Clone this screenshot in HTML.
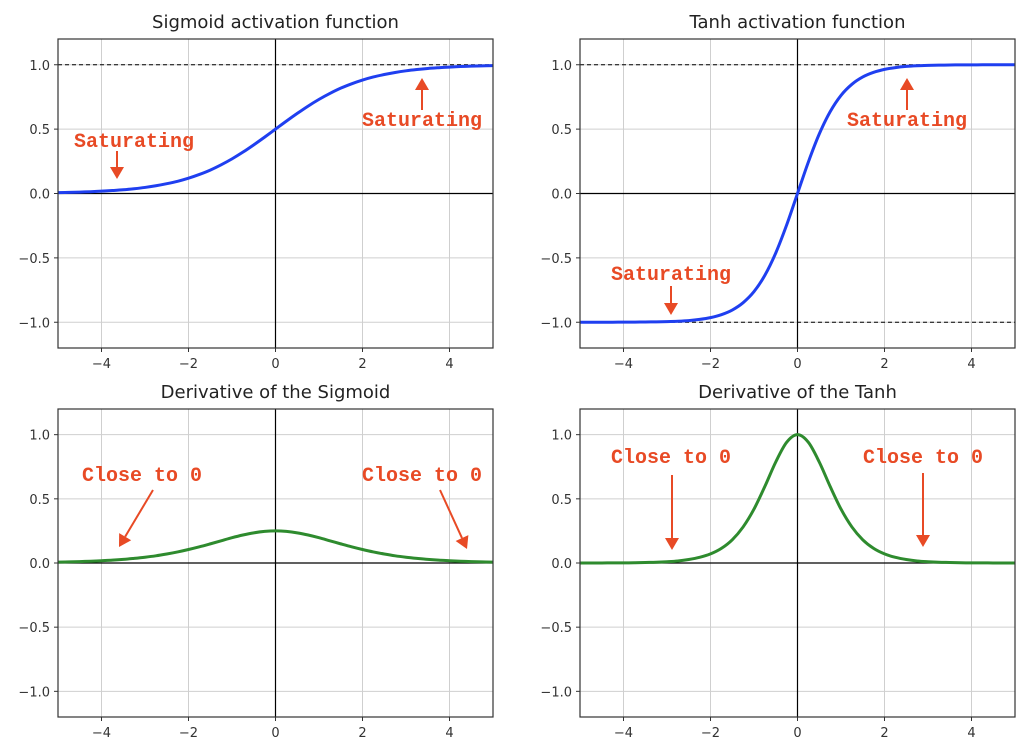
<!DOCTYPE html>
<html><head><meta charset="utf-8"><style>
html,body{margin:0;padding:0;background:#fff;}
svg{display:block;font-family:"DejaVu Sans","Liberation Sans",sans-serif;}
</style></head><body>
<svg id="fig" width="1024" height="753" viewBox="0 0 1024 753"></svg>
<script>
const xValues = [-5,-4.75,-4.5,-4.25,-4,-3.75,-3.5,-3.25,-3,-2.75,-2.5,-2.25,-2,-1.75,-1.5,-1.25,-1,-0.75,-0.5,-0.25,0,0.25,0.5,0.75,1,1.25,1.5,1.75,2,2.25,2.5,2.75,3,3.25,3.5,3.75,4,4.25,4.5,4.75,5];
const sigmoidValues = [0.007,0.009,0.011,0.014,0.018,0.023,0.029,0.037,0.047,0.060,0.076,0.095,0.119,0.148,0.182,0.223,0.269,0.321,0.378,0.438,0.5,0.562,0.622,0.679,0.731,0.777,0.818,0.852,0.881,0.905,0.924,0.940,0.953,0.963,0.971,0.977,0.982,0.986,0.989,0.991,0.993];
const tanhValues = [-0.9999,-0.9999,-0.9998,-0.9996,-0.9993,-0.999,-0.998,-0.997,-0.995,-0.992,-0.987,-0.978,-0.964,-0.941,-0.905,-0.848,-0.762,-0.635,-0.462,-0.245,0,0.245,0.462,0.635,0.762,0.848,0.905,0.941,0.964,0.978,0.987,0.992,0.995,0.997,0.998,0.999,0.9993,0.9996,0.9998,0.9999,0.9999];
const sigmoidDerivValues = [0.007,0.009,0.011,0.014,0.018,0.022,0.028,0.036,0.045,0.056,0.070,0.086,0.105,0.126,0.149,0.173,0.197,0.218,0.235,0.246,0.25,0.246,0.235,0.218,0.197,0.173,0.149,0.126,0.105,0.086,0.070,0.056,0.045,0.036,0.028,0.022,0.018,0.014,0.011,0.009,0.007];
const tanhDerivValues = [0.0002,0.0003,0.0005,0.001,0.001,0.002,0.004,0.006,0.010,0.016,0.027,0.044,0.071,0.114,0.181,0.281,0.420,0.597,0.787,0.940,1,0.940,0.787,0.597,0.420,0.281,0.181,0.114,0.071,0.044,0.027,0.016,0.010,0.006,0.004,0.002,0.001,0.001,0.0005,0.0003,0.0002];
const xTicks = [-4,-2,0,2,4];
const xTickLabels = ["\u22124","\u22122","0","2","4"];
const yTicks = [-1,-0.5,0,0.5,1];
const yTickLabels = ["\u22121.0","\u22120.5","0.0","0.5","1.0"];

const NS = "http://www.w3.org/2000/svg";
const fig = document.getElementById('fig');
function mk(tag, attrs, parent, text){
  const e = document.createElementNS(NS, tag);
  for (const k in attrs) e.setAttribute(k, attrs[k]);
  if (text !== undefined) e.textContent = text;
  parent.appendChild(e);
  return e;
}
const RED = "#e84a25";

const panels = [
  {name:"sigmoid", title:"Sigmoid activation function", L:58, R:493, T:39, B:348, values:sigmoidValues, color:"#1f3ff0", dashed:[1],
   notes:[{t:"Saturating", x:74, y:147, ax1:[117,151], ax2:[117,179]},{t:"Saturating", x:362, y:126, ax1:[422,110], ax2:[422,78]}]},
  {name:"tanh", title:"Tanh activation function", L:580, R:1015, T:39, B:348, values:tanhValues, color:"#1f3ff0", dashed:[1,-1],
   notes:[{t:"Saturating", x:847, y:126, ax1:[907,110], ax2:[907,78]},{t:"Saturating", x:611, y:280, ax1:[671,286], ax2:[671,315]}]},
  {name:"sigmoid-derivative", title:"Derivative of the Sigmoid", L:58, R:493, T:409, B:717, values:sigmoidDerivValues, color:"#2e8b2e", dashed:[],
   notes:[{t:"Close to 0", x:82, y:481, ax1:[153,490], ax2:[119,547]},{t:"Close to 0", x:362, y:481, ax1:[440,490], ax2:[467,549]}]},
  {name:"tanh-derivative", title:"Derivative of the Tanh", L:580, R:1015, T:409, B:717, values:tanhDerivValues, color:"#2e8b2e", dashed:[],
   notes:[{t:"Close to 0", x:611, y:463, ax1:[672,475], ax2:[672,550]},{t:"Close to 0", x:863, y:463, ax1:[923,473], ax2:[923,547]}]}
];

panels.forEach(p=>{
  const g = mk('g', {}, fig);
  
  
  const sx = v => p.L + (v + 5) / 10 * (p.R - p.L);
  const sy = v => p.B - (v + 1.2) / 2.4 * (p.B - p.T);
  const t = mk('text', {x:(p.L+p.R)/2, y:p.T-11, 'text-anchor':'middle', 'font-size':18, fill:'#222'}, g, p.title);
  
  
  xTicks.forEach((v,i)=>{
    const l = mk('line', {x1:sx(v), x2:sx(v), y1:p.T, y2:p.B, stroke:'#cfcfcf', 'stroke-width':1}, g);
    
    
    mk('line', {x1:sx(v), x2:sx(v), y1:p.B, y2:p.B+4, stroke:'#333', 'stroke-width':1}, g);
    const tl = mk('text', {x:sx(v), y:p.B+20, 'text-anchor':'middle', 'font-size':13, fill:'#333'}, g, xTickLabels[i]);
    
    
  });
  yTicks.forEach((v,i)=>{
    const l = mk('line', {x1:p.L, x2:p.R, y1:sy(v), y2:sy(v), stroke:'#cfcfcf', 'stroke-width':1}, g);
    
    
    mk('line', {x1:p.L-4, x2:p.L, y1:sy(v), y2:sy(v), stroke:'#333', 'stroke-width':1}, g);
    const tl = mk('text', {x:p.L-8, y:sy(v)+5, 'text-anchor':'end', 'font-size':13, fill:'#333'}, g, yTickLabels[i]);
    
    
  });
  mk('line', {x1:p.L, x2:p.R, y1:sy(0), y2:sy(0), stroke:'#000', 'stroke-width':1.2}, g);
  mk('line', {x1:sx(0), x2:sx(0), y1:p.T, y2:p.B, stroke:'#000', 'stroke-width':1.2}, g);
  p.dashed.forEach(v=>{
    const d = mk('line', {x1:p.L, x2:p.R, y1:sy(v), y2:sy(v), stroke:'#000', 'stroke-width':1, 'stroke-dasharray':'4,3'}, g);
    
    
  });
  const pts = xValues.map((x,i)=>[sx(x), sy(p.values[i])]);
  let dstr = 'M' + pts[0][0].toFixed(2) + ',' + pts[0][1].toFixed(2);
  for (let i=0;i<pts.length-1;i++){
    const p0 = pts[Math.max(0,i-1)], p1 = pts[i], p2 = pts[i+1], p3 = pts[Math.min(pts.length-1,i+2)];
    const c1 = [p1[0]+(p2[0]-p0[0])/6, p1[1]+(p2[1]-p0[1])/6];
    const c2 = [p2[0]-(p3[0]-p1[0])/6, p2[1]-(p3[1]-p1[1])/6];
    dstr += ' C' + c1.map(n=>n.toFixed(2)).join(',') + ' ' + c2.map(n=>n.toFixed(2)).join(',') + ' ' + p2.map(n=>n.toFixed(2)).join(',');
  }
  const c = mk('path', {d:dstr, fill:'none', stroke:p.color, 'stroke-width':3, 'stroke-linejoin':'round'}, g);
  
  
  mk('rect', {x:p.L, y:p.T, width:p.R-p.L, height:p.B-p.T, fill:'none', stroke:'#333', 'stroke-width':1.2}, g);
  p.notes.forEach(n=>{
    const at = mk('text', {x:n.x, y:n.y, 'font-size':20, 'font-weight':'bold', fill:RED, 'font-family':'"Liberation Mono", monospace', textLength:120, lengthAdjust:'spacingAndGlyphs'}, g, n.t);
    
    
    const [x1,y1] = n.ax1, [x2,y2] = n.ax2;
    const dx = x2-x1, dy = y2-y1, len = Math.hypot(dx,dy), ux = dx/len, uy = dy/len;
    const hl = 12, hw = 7;
    const bx = x2 - ux*hl, by = y2 - uy*hl;
    const ar = mk('g', {}, g);
    
    
    mk('line', {x1:x1, y1:y1, x2:bx, y2:by, stroke:RED, 'stroke-width':2}, ar);
    mk('polygon', {points:`${x2},${y2} ${bx-uy*hw},${by+ux*hw} ${bx+uy*hw},${by-ux*hw}`, fill:RED}, ar);
  });
});
</script>
</body></html>
